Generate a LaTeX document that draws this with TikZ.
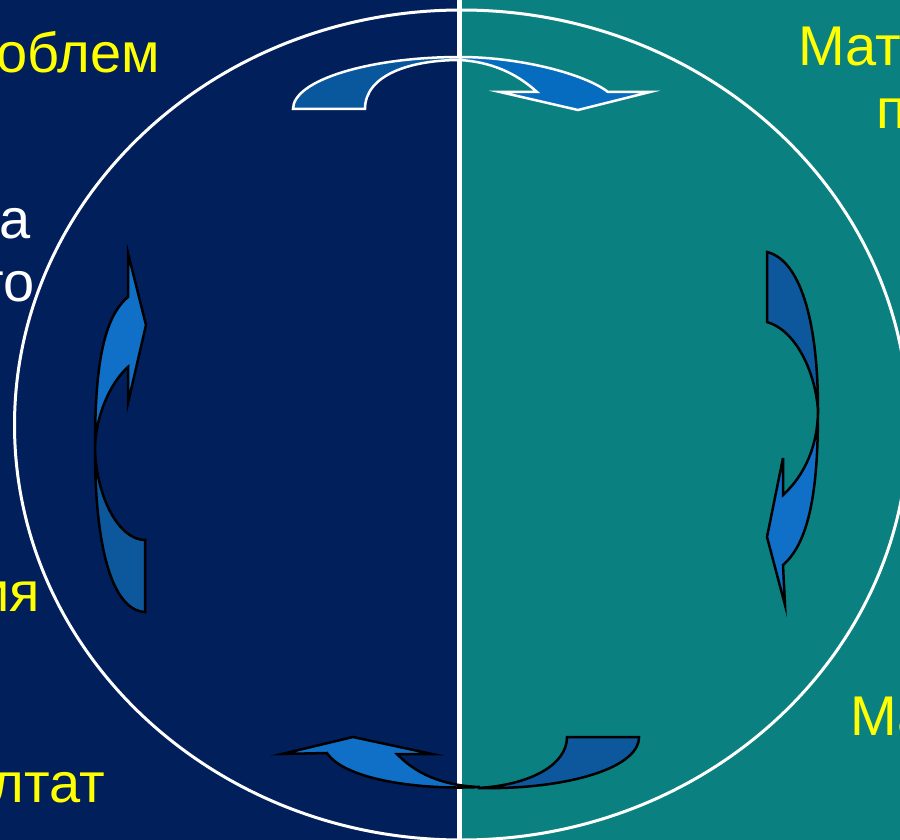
\documentclass[tikz,border=0pt]{standalone}
\usepackage{fontspec}
\setmainfont{Liberation Sans}
\definecolor{navy}{RGB}{0,31,91}
\definecolor{tealbg}{RGB}{11,128,128}
\definecolor{ylw}{RGB}{255,255,0}
\definecolor{darkblue}{RGB}{13,88,156}
\definecolor{brightblue}{RGB}{16,112,200}
\definecolor{topdark}{RGB}{9,88,158}
\definecolor{topbright}{RGB}{6,108,192}
\begin{document}
\begin{tikzpicture}[x=1pt,y=-1pt,
  lbl/.style={inner sep=0pt, font=\fontsize{56}{62}\selectfont},
  blackarrow/.style={draw=black, line width=2.5pt, line join=miter},
  whitearrow/.style={draw=white, line width=2.5pt, line join=miter}]
\useasboundingbox (0,0) rectangle (900,840);
\clip (0,0) rectangle (900,840);
% background
\fill[navy] (0,0) rectangle (459.5,840);
\fill[tealbg] (459.5,0) rectangle (900,840);
% ellipse
\draw[white, line width=3pt] (461.5,425) ellipse [x radius=447pt, y radius=415pt];
% divider
\draw[white, line width=4.5pt] (459.5,0) -- (459.5,840);
% top arrow
\path[whitearrow, fill=topdark] (293,109) .. controls (293,80) and (370,57) .. (460,57)
  -- (460,60) .. controls (410,60) and (365,75) .. (365,109) -- cycle;
\path[whitearrow, fill=topbright] (460,57) .. controls (520,57) and (585,74) .. (608,92)
  -- (650,92) -- (578,110) -- (500,92) -- (537,92)
  .. controls (515,72) and (490,62) .. (460,60) -- cycle;
% bottom arrow
\path[blackarrow, fill=darkblue] (567,737) -- (639,737) .. controls (639,770) and (560,790) .. (478,788)
  .. controls (530,785) and (567,765) .. (567,737) -- cycle;
\path[blackarrow, fill=brightblue] (327,753) -- (282,754) -- (353,737) -- (432,754) -- (397,754)
  .. controls (420,778) and (450,786) .. (480,787)
  .. controls (420,790) and (345,780) .. (327,753) -- cycle;
% left vertical arrow
\path[blackarrow, fill=darkblue] (95,450) .. controls (95,540) and (110,610) .. (145,612)
  -- (145,540) .. controls (120,540) and (97,500) .. (95,450) -- cycle;
\path[blackarrow, fill=brightblue] (95,450) .. controls (95,380) and (100,320) .. (128,297)
  -- (128,253) -- (146,325) -- (128,403) -- (128,367)
  .. controls (108,385) and (95,420) .. (95,450) -- cycle;
% right vertical arrow
\path[blackarrow, fill=darkblue] (767,252) -- (767,322) .. controls (795,330) and (815,370) .. (818,410)
  .. controls (818,320) and (800,260) .. (767,252) -- cycle;
\path[blackarrow, fill=brightblue] (818,410) .. controls (818,480) and (812,540) .. (783,565)
  -- (785,605) -- (767,537) -- (783,458) -- (783,495)
  .. controls (805,475) and (818,445) .. (818,410) -- cycle;
% texts
\node[lbl, text=ylw, anchor=base east] (t1) at (160,73) {роблем};
\node[lbl, text=white, anchor=base east] (t2) at (31,238) {а};
\node[lbl, text=white, anchor=base east] (t3) at (35,301) {то};
\node[lbl, text=ylw, anchor=base east] (t4) at (40,611) {ия};
\node[lbl, text=ylw, anchor=base east] (t5) at (105,802) {лтат};
\node[lbl, text=ylw, anchor=base west] (t6) at (798,66) {Мате};
\node[lbl, text=ylw, anchor=base west] (t7) at (876,129) {п};
\node[lbl, text=ylw, anchor=base west] (t8) at (850,735) {Ма};
\end{tikzpicture}
\end{document}
